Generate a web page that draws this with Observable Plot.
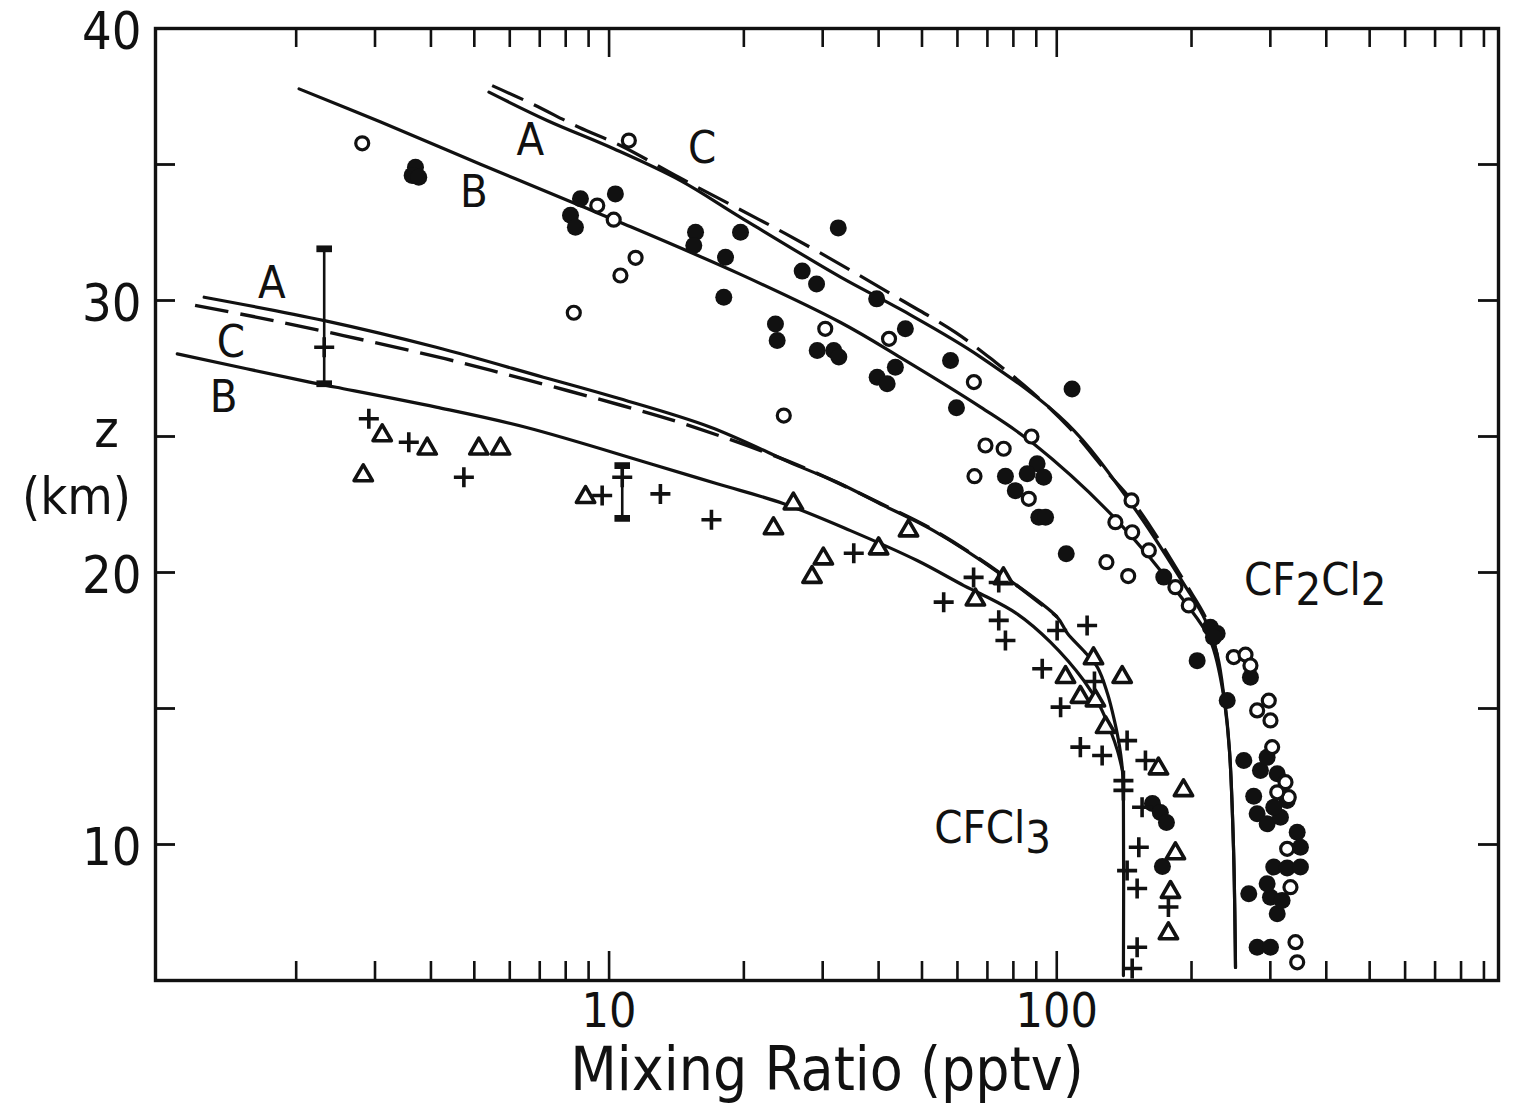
<!DOCTYPE html>
<html>
<head>
<meta charset="utf-8">
<script src="https://cdn.jsdelivr.net/npm/d3@7"></script>
<script src="https://cdn.jsdelivr.net/npm/@observablehq/plot@0.6"></script>
<style>
  html, body { margin: 0; padding: 0; background: #ffffff; }
  #chart svg { display: block; }
</style>
</head>
<body>
<div id="chart"></div>
<script>
// ---------------- axis ticks ----------------
const xMinorTicks = [2,3,4,5,6,7,8,9,20,30,40,50,60,70,80,90,200,300,400,500,600,700,800,900];
const xMajorTicks = [10, 100];
const xTickLabels = [10, 100];
const yTicks = [10, 15, 20, 25, 30, 35];
const yTickLabels = [10, 20, 30, 40];

// ---------------- model curves (mixing ratio pptv, altitude km) ----------------
// CF2Cl2
const cf2A_x = [5.39, 7.27, 10.24, 14.44, 19.66, 32.9, 44.8, 67.6, 105.5, 148.6, 192.2, 214.8, 228.5, 236.9, 243.1, 248.2, 250.8];
const cf2A_z = [37.66, 36.62, 35.58, 34.41, 33.06, 30.86, 29.67, 27.92, 25.47, 22.40, 19.58, 18.24, 16.95, 15.29, 13.46, 9.89, 5.48];
const cf2B_x = [2.03, 3.09, 5.16, 8.63, 10.60, 19.66, 32.9, 44.8, 67.6, 88.8, 136.4, 192.2, 220.4, 236.9, 243.1, 248.2, 250.8];
const cf2B_z = [37.78, 36.56, 35.01, 33.48, 32.87, 30.96, 29.19, 27.90, 26.08, 24.73, 21.91, 18.97, 17.5, 15.29, 13.46, 9.89, 5.48];
const cf2C_x = [5.48, 6.73, 8.56, 10.6, 14.31, 19.16, 24.77, 33.73, 45.16, 59.4, 72.98, 88.1, 107.3, 128.5, 150.7, 193.9, 216.5, 228.5];
const cf2C_z = [37.90, 37.23, 36.37, 35.70, 34.53, 33.43, 32.46, 31.22, 30.0, 28.83, 27.73, 26.63, 25.28, 23.75, 22.43, 19.6, 18.24, 16.95];
// CFCl3
const cfA_x = [1.246, 2.313, 4.11, 7.13, 10.30, 16.85, 26.31, 32.32, 41.09, 53.05, 74.84, 100.2, 105.7, 114.7, 123.3, 129.8, 134.5, 138.0, 140.2, 140.9, 140.9];
const cfA_z = [30.12, 29.26, 28.28, 27.18, 26.44, 25.34, 23.93, 23.32, 22.46, 21.54, 19.95, 18.36, 17.76, 17.13, 16.51, 15.55, 14.56, 13.64, 12.72, 11.62, 5.18];
const cfB_x = [1.085, 2.142, 2.457, 4.11, 6.51, 12.37, 17.44, 24.56, 34.61, 48.77, 62.0, 67.55, 81.55, 96.8, 114.9, 125.2, 131.8, 136.6, 140.2];
const cfB_z = [28.04, 27.0, 26.81, 26.08, 25.34, 24.0, 23.26, 22.53, 21.54, 20.44, 19.52, 19.22, 18.48, 17.44, 16.03, 15.05, 14.19, 13.46, 12.72];
const cfC_x = [1.189, 1.626, 2.55, 4.30, 6.63, 10.68, 15.12, 26.31, 41.09, 53.05, 74.84, 100.2];
const cfC_z = [29.82, 29.39, 28.71, 27.86, 27.06, 26.14, 25.40, 23.96, 22.48, 21.56, 19.97, 18.37];

// ---------------- observations ----------------
// CF2Cl2, filled circles
const filledX = [3.694, 3.632, 3.757, 8.63, 8.20, 8.41, 10.33, 15.6, 15.46, 19.66, 18.2, 18.04, 32.5, 27.0, 29.07, 39.6, 23.53, 23.74, 29.17, 31.76, 32.6, 45.9, 39.7, 41.8, 43.6, 57.9, 59.7, 108.2, 76.8, 80.8, 90.4, 85.9, 93.5, 91.2, 94.4, 105.0, 173.4, 220.4, 228.2, 223.9, 205.9, 270.8, 240.3, 261.7, 285.1, 295.1, 310.8, 275.4, 280.3, 295.1, 316.0, 327.1, 305.3, 344.4, 350.2, 305.3, 327.1, 350.2, 300.2, 310.8, 318.7, 295.1, 268.5, 280.3, 300.2];
const filledZ = [34.90, 34.60, 34.53, 33.74, 33.13, 32.69, 33.92, 32.51, 32.02, 32.51, 31.59, 30.12, 32.67, 31.08, 30.61, 30.06, 29.14, 28.53, 28.16, 28.16, 27.92, 28.96, 27.18, 26.94, 27.55, 27.79, 26.06, 26.75, 23.54, 23.01, 24.0, 23.63, 23.50, 22.03, 22.03, 20.69, 19.83, 17.99, 17.76, 17.62, 16.76, 16.15, 15.29, 13.09, 12.72, 13.21, 12.60, 11.77, 11.13, 10.76, 11.0, 11.62, 11.37, 10.45, 9.90, 9.17, 9.14, 9.17, 8.06, 7.45, 7.94, 8.56, 8.19, 6.22, 6.22];
// CF2Cl2, open circles
const openX = [2.809, 11.07, 9.41, 10.24, 11.46, 10.60, 8.34, 30.4, 42.2, 65.3, 24.56, 87.8, 69.3, 76.1, 65.5, 86.6, 146.9, 135.2, 147.4, 160.6, 129.1, 144.4, 184.1, 197.2, 248.5, 264.0, 270.8, 280.3, 297.6, 300.2, 302.8, 324.3, 329.8, 310.8, 327.1, 332.7, 341.4, 344.4];
const openZ = [35.78, 35.88, 33.49, 32.97, 31.57, 30.92, 29.55, 28.96, 28.59, 27.0, 25.77, 25.0, 24.67, 24.55, 23.54, 22.71, 22.65, 21.85, 21.48, 20.81, 20.38, 19.87, 19.46, 18.79, 16.89, 16.98, 16.58, 14.93, 15.29, 14.56, 13.58, 12.29, 11.74, 11.92, 9.84, 8.43, 6.41, 5.67];
// CFCl3, plus signs
const plusX = [2.31, 2.906, 3.569, 4.738, 9.65, 10.70, 13.02, 16.93, 35.2, 55.9, 65.2, 74.2, 74.2, 76.8, 100.2, 116.9, 92.8, 102.0, 121.4, 112.9, 126.3, 143.6, 140.9, 140.9, 157.8, 155.1, 152.5, 143.6, 151.2, 177.6, 151.2, 147.4];
const plusZ = [28.28, 25.65, 24.79, 23.50, 22.83, 23.50, 22.89, 21.94, 20.71, 18.91, 19.82, 19.63, 18.24, 17.50, 17.87, 18.05, 16.46, 15.05, 15.99, 13.58, 13.27, 13.82, 12.35, 11.99, 13.09, 11.37, 9.90, 9.04, 8.38, 7.70, 6.22, 5.44];
// CFCl3, open triangles
const triX = [3.113, 3.924, 2.824, 5.117, 5.72, 8.86, 25.8, 23.29, 30.1, 28.4, 40.0, 46.65, 65.8, 76.0, 104.6, 120.8, 140.0, 112.9, 122.0, 128.5, 168.7, 191.9, 184.1, 179.5, 177.6];
const triZ = [25.04, 24.55, 23.57, 24.55, 24.55, 22.77, 22.53, 21.62, 20.51, 19.83, 20.88, 21.54, 19.0, 19.78, 16.15, 16.84, 16.15, 15.42, 15.29, 14.31, 12.79, 11.99, 9.67, 8.25, 6.73];
// CFCl3, over-inked (solid) symbols
const blobX = [163.6, 170.4, 175.8, 172.2];
const blobZ = [11.51, 11.18, 10.81, 9.19];
// CFCl3 error bars
const errX = [2.31, 10.70];
const errLo = [26.94, 21.99];
const errHi = [31.9, 23.93];

// ---------------- annotations ----------------
const curveLabelText = ["A", "C", "B", "A", "C", "B"];
const curveLabelX = [6.67, 16.14, 4.99, 1.765, 1.43, 1.378];
const curveLabelZ = [35.88, 35.58, 33.98, 30.63, 28.46, 26.44];
const speciesText = ["CF2Cl2", "CFCl3"];
const speciesX = [378, 71.9];
const speciesZ = [19.34, 10.22];

// ---------------- build ----------------
const INK = "#111111";
const FONT = "'Liberation Sans Narrow', 'DejaVu Sans Condensed', 'Roboto Condensed', 'DejaVu Sans', sans-serif";
const W = 1515, H = 1107, ML = 155, MR = 17, MT = 28, MB = 127;
const FW = W - ML - MR, FH = H - MT - MB;

const pts = (xs, zs) => xs.map((x, i) => ({x, z: zs[i]}));
const lineOpts = {x: "x", y: "z", curve: "catmull-rom", stroke: INK, strokeWidth: 3.2, strokeLinecap: "round"};

const chart = Plot.plot({
  width: W, height: H,
  marginLeft: ML, marginRight: MR, marginTop: MT, marginBottom: MB,
  x: {type: "log", domain: [0.97, 970], axis: null},
  y: {domain: [5, 40], axis: null},
  style: {fontFamily: FONT, color: INK, background: "white"},
  marks: [
    // frame and inward ticks
    Plot.frame({stroke: INK, strokeWidth: 3.4}),
    Plot.ruleX(xMinorTicks, {x: d => d, insetTop: FH - 19, stroke: INK, strokeWidth: 2.6}),
    Plot.ruleX(xMajorTicks, {x: d => d, insetTop: FH - 29, stroke: INK, strokeWidth: 2.6}),
    Plot.ruleX(xMinorTicks, {x: d => d, insetBottom: FH - 19, stroke: INK, strokeWidth: 2.6}),
    Plot.ruleX(xMajorTicks, {x: d => d, insetBottom: FH - 29, stroke: INK, strokeWidth: 2.6}),
    Plot.ruleY(yTicks, {y: d => d, insetRight: FW - 20, stroke: INK, strokeWidth: 2.8}),
    Plot.ruleY(yTicks, {y: d => d, insetLeft: FW - 20, stroke: INK, strokeWidth: 2.8}),
    // tick labels
    Plot.text(xTickLabels, {x: d => d, text: d => String(d), frameAnchor: "bottom", dy: 31, lineAnchor: "middle", textAnchor: "middle", fontSize: 48, fill: INK}),
    Plot.text(yTickLabels, {y: d => d, text: d => String(d), frameAnchor: "left", dx: -14, dy: 4, lineAnchor: "middle", textAnchor: "end", fontSize: 52, fill: INK}),
    // axis titles
    Plot.text(["Mixing Ratio (pptv)"], {text: d => d, frameAnchor: "bottom", dy: 90, lineAnchor: "middle", textAnchor: "middle", fontSize: 60, fill: INK}),
    Plot.text(["z"], {text: d => d, frameAnchor: "left", dx: -49, dy: -74, lineAnchor: "middle", textAnchor: "middle", fontSize: 52, fill: INK}),
    Plot.text(["(km)"], {text: d => d, frameAnchor: "left", dx: -79, dy: -7, lineAnchor: "middle", textAnchor: "middle", fontSize: 52, fill: INK}),
    // model curves
    Plot.line(pts(cf2C_x, cf2C_z), {...lineOpts, strokeDasharray: "34,12", strokeLinecap: "butt"}),
    Plot.line(pts(cf2A_x, cf2A_z), lineOpts),
    Plot.line(pts(cf2B_x, cf2B_z), lineOpts),
    Plot.line(pts(cfC_x, cfC_z), {...lineOpts, strokeDasharray: "34,12", strokeLinecap: "butt", strokeWidth: 3.4}),
    Plot.line(pts(cfA_x, cfA_z), lineOpts),
    Plot.line(pts(cfB_x, cfB_z), lineOpts),
    // error bars
    Plot.link(errX.map((x, i) => ({x, lo: errLo[i], hi: errHi[i]})),
      {x1: "x", x2: "x", y1: "lo", y2: "hi", stroke: INK, strokeWidth: 2.6, markerStart: "tick", markerEnd: "tick"}),
    // observations
    Plot.dot(pts(blobX, blobZ), {x: "x", y: "z", r: 8.5, fill: INK}),
    Plot.dot(pts(filledX, filledZ), {x: "x", y: "z", r: 8.5, fill: INK}),
    Plot.dot(pts(openX, openZ), {x: "x", y: "z", r: 6.5, fill: "white", stroke: INK, strokeWidth: 3.2}),
    Plot.dot(pts(triX, triZ), {x: "x", y: "z", symbol: "triangle", r: 6.8, fill: "white", stroke: INK, strokeWidth: 3.6, strokeLinejoin: "round"}),
    Plot.dot(pts(plusX, plusZ), {x: "x", y: "z", symbol: "plus", r: 6.5, fill: "none", stroke: INK, strokeWidth: 3.6}),
    // curve and species labels
    Plot.text(curveLabelText.map((t, i) => ({t, x: curveLabelX[i], z: curveLabelZ[i]})),
      {x: "x", y: "z", text: "t", fontSize: 45, fill: INK}),
    Plot.text(speciesText.map((t, i) => ({t, x: speciesX[i], z: speciesZ[i]})),
      {x: "x", y: "z", text: "t", fontSize: 45, fill: INK, className: "species"})
  ]
});

// chemical formulae: lower the digits as subscripts (text stays text)
d3.select(chart).selectAll("g.species text").each(function() {
  const s = this.textContent;
  const el = d3.select(this);
  el.text(null);
  const parts = s.match(/[A-Za-z]+|[0-9]+/g);
  parts.forEach(p => {
    const isNum = /^[0-9]+$/.test(p);
    el.append("tspan")
      .attr("dy", isNum ? "0.22em" : (el.selectAll("tspan").size() ? "-0.22em" : null))
      .text(p);
  });
});

document.getElementById("chart").appendChild(chart);
</script>
</body>
</html>
